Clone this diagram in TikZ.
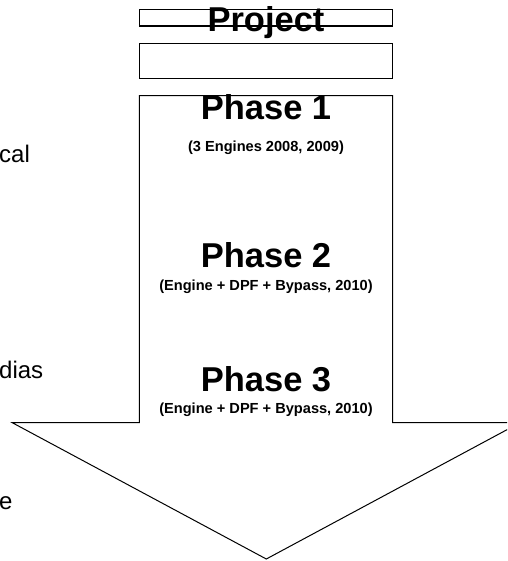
\documentclass[tikz,border=0pt]{standalone}
\usepackage{fontspec}
\setmainfont{Liberation Sans}
\tikzset{
  boxshape/.style={draw=black, line width=1.1pt, fill=white, minimum width=253.4pt, inner sep=0pt},
  title/.style={anchor=base, inner sep=0pt, font=\fontsize{34.5}{36}\selectfont\bfseries},
  subtitle/.style={anchor=base, inner sep=0pt, font=\fontsize{14.6}{16}\selectfont\bfseries},
  sidetext/.style={anchor=base west, inner sep=0pt, font=\fontsize{24}{26}\selectfont},
  arrowline/.style={draw=black, line width=1pt, line join=miter}
}
\begin{document}
\begin{tikzpicture}[x=1pt,y=-1pt]
\useasboundingbox (0,0) rectangle (507,561);
\clip (0,0) rectangle (507,561);
% big arrow
\coordinate (shaftTL) at (139.3,95.7);
\coordinate (shaftTR) at (392.7,95.7);
\coordinate (shaftBR) at (392.7,422.7);
\coordinate (headR) at (520,422.7);
\coordinate (tip) at (266.3,559);
\coordinate (headL) at (12.3,422.7);
\coordinate (shaftBL) at (139.3,422.7);
\draw[arrowline] (shaftTL) -- (shaftTR) -- (shaftBR) -- (headR) -- (tip) -- (headL) -- (shaftBL) -- cycle;
% boxes
\node[boxshape, minimum height=16.7pt] (projbox) at (266,17.65) {};
\node[boxshape, minimum height=35pt] (secondbox) at (266,60.8) {};
% texts
\node[title] (project) at (266,31.7) {Project};
\node[title] (p1) at (266,120) {Phase 1};
\node[subtitle] (p1s) at (266,151.7) {(3 Engines 2008, 2009)};
\node[title] (p2) at (266,267.7) {Phase 2};
\node[subtitle] (p2s) at (266,290.7) {(Engine + DPF + Bypass, 2010)};
\node[title] (p3) at (266,391.7) {Phase 3};
\node[subtitle] (p3s) at (266,413.3) {(Engine + DPF + Bypass, 2010)};
% left clipped texts
\node[sidetext] (t1) at (-1,162.7) {cal};
\node[sidetext] (t2) at (-1,378.3) {dias};
\node[sidetext] (t3) at (-1,509) {e};
\end{tikzpicture}
\end{document}
